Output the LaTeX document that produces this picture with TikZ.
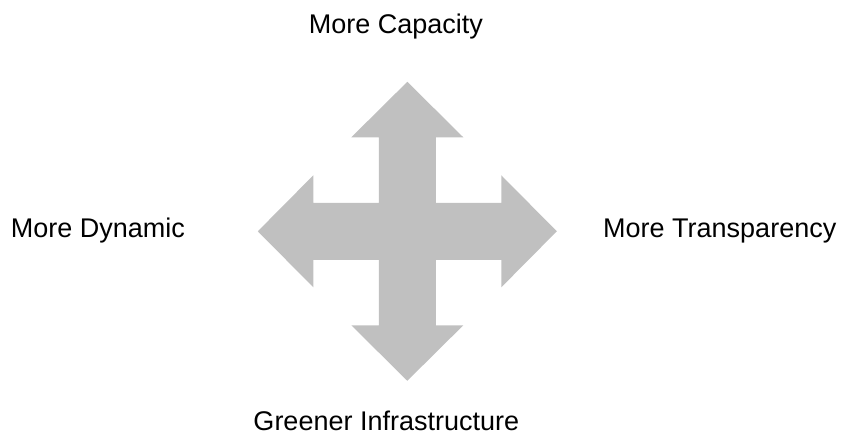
\documentclass[tikz,border=0pt]{standalone}
\usepackage{fontspec}
\setmainfont{Liberation Sans}
\usetikzlibrary{calc}
\begin{document}
\begin{tikzpicture}[x=1pt,y=-1pt,
  lbl/.style={inner sep=0pt,font=\fontsize{27}{32}\selectfont,text=black}]
\definecolor{crossgray}{RGB}{192,192,192}
\useasboundingbox (0,0) rectangle (845,435);
\coordinate (c) at (407.3,231.3);
\def\hs{28.5}\def\hb{94}\def\hh{56}\def\tp{149.5}
\fill[crossgray]
  ($(c)+(0,-\tp)$) -- ($(c)+(\hh,-\hb)$) -- ($(c)+(\hs,-\hb)$) -- ($(c)+(\hs,-\hs)$)
  -- ($(c)+(\hb,-\hs)$) -- ($(c)+(\hb,-\hh)$) -- ($(c)+(\tp,0)$) -- ($(c)+(\hb,\hh)$)
  -- ($(c)+(\hb,\hs)$) -- ($(c)+(\hs,\hs)$) -- ($(c)+(\hs,\hb)$) -- ($(c)+(\hh,\hb)$)
  -- ($(c)+(0,\tp)$) -- ($(c)+(-\hh,\hb)$) -- ($(c)+(-\hs,\hb)$) -- ($(c)+(-\hs,\hs)$)
  -- ($(c)+(-\hb,\hs)$) -- ($(c)+(-\hb,\hh)$) -- ($(c)+(-\tp,0)$) -- ($(c)+(-\hb,-\hh)$)
  -- ($(c)+(-\hb,-\hs)$) -- ($(c)+(-\hs,-\hs)$) -- ($(c)+(-\hs,-\hb)$) -- ($(c)+(-\hh,-\hb)$)
  -- cycle;
\node[lbl,anchor=base west] (cap) at (308.7,33.3) {More Capacity};
\node[lbl,anchor=base west] (dyn) at (10.7,237.5) {More Dynamic};
\node[lbl,anchor=base west] (tra) at (603,238) {More Transparency};
\node[lbl,anchor=base east] (gre) at (519.3,430) {Greener Infrastructure};
\end{tikzpicture}
\end{document}
